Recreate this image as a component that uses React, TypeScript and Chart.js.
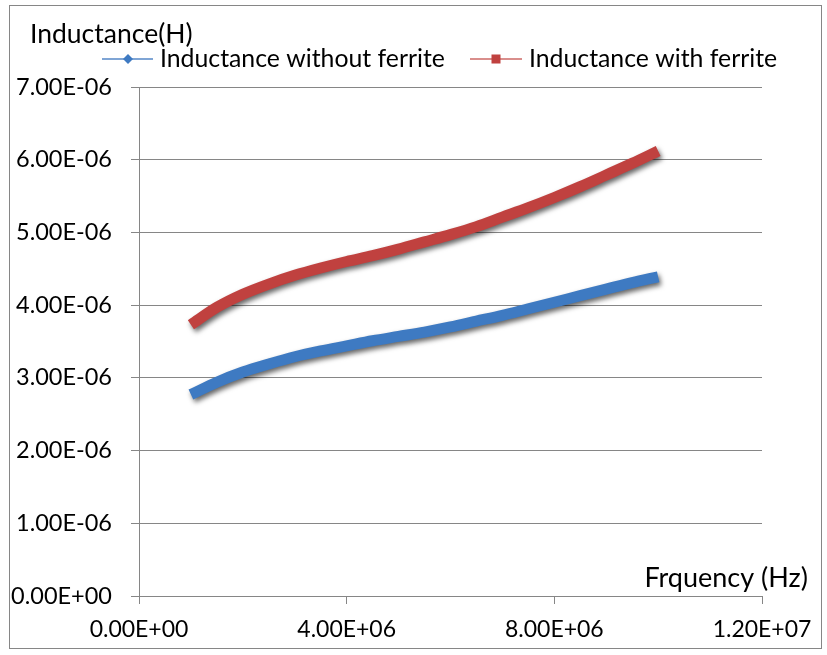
import React, { useEffect, useRef } from "react";
import { Chart, registerables } from "chart.js";

Chart.register(...registerables);

const frequencyHz = [
  1.0e6, 1.5e6, 2.0e6, 2.5e6, 3.0e6, 3.5e6, 4.0e6, 4.5e6, 5.0e6, 5.5e6,
  6.0e6, 6.5e6, 7.0e6, 7.5e6, 8.0e6, 8.5e6, 9.0e6, 9.5e6, 1.0e7,
];
const inductanceWithoutFerrite = [
  2.77e-6, 2.94e-6, 3.08e-6, 3.19e-6, 3.29e-6, 3.37e-6, 3.44e-6, 3.51e-6, 3.57e-6, 3.63e-6,
  3.70e-6, 3.78e-6, 3.86e-6, 3.95e-6, 4.04e-6, 4.13e-6, 4.22e-6, 4.31e-6, 4.39e-6,
];
const inductanceWithFerrite = [
  3.73e-6, 3.97e-6, 4.15e-6, 4.29e-6, 4.41e-6, 4.51e-6, 4.60e-6, 4.68e-6, 4.77e-6, 4.87e-6,
  4.97e-6, 5.08e-6, 5.21e-6, 5.34e-6, 5.48e-6, 5.63e-6, 5.79e-6, 5.95e-6, 6.12e-6,
];
const seriesNames = ["Inductance without ferrite", "Inductance with ferrite"];
const yAxisTitle = "Inductance(H)";
const xAxisTitle = "Frquency (Hz)";

const BLUE = "#3E7AC2";
const RED = "#C0413F";
const GRID = "#868686";
const FONT = "Lato";

const fmt = (v: number) => {
  const s = Number(v).toExponential(2);
  const [m, e] = s.split("e");
  const n = parseInt(e, 10);
  return m + "E" + (n < 0 ? "-" : "+") + String(Math.abs(n)).padStart(2, "0");
};

const decor = {
  id: "decor",
  beforeDraw(chart: any) {
    const ctx = chart.ctx;
    ctx.save();
    ctx.fillStyle = "#fff";
    ctx.fillRect(0, 0, chart.width, chart.height);
    ctx.restore();
  },
  beforeDatasetsDraw(chart: any) {
    const ctx = chart.ctx;
    ctx.save();
    ctx.shadowColor = "rgba(0,0,0,0.6)";
    ctx.shadowBlur = 5;
    ctx.shadowOffsetX = 2;
    ctx.shadowOffsetY = 3;
  },
  afterDatasetsDraw(chart: any) {
    chart.ctx.restore();
  },
  afterDraw(chart: any) {
    const ctx = chart.ctx;
    ctx.save();
    ctx.strokeStyle = GRID;
    ctx.lineWidth = 1;
    ctx.strokeRect(9.5, 5.5, 812, 643);
    ctx.fillStyle = "#000";
    ctx.textBaseline = "middle";
    ctx.font = `26.5px ${FONT}`;
    ctx.textAlign = "left";
    ctx.fillText(yAxisTitle, 30, 34);
    ctx.font = `27px ${FONT}`;
    ctx.textAlign = "right";
    ctx.fillText(xAxisTitle, 808, 578);
    // legend
    ctx.textAlign = "left";
    ctx.font = `24.8px ${FONT}`;
    const ly = 59;
    ctx.lineWidth = 2;
    ctx.strokeStyle = "#7FA5D5";
    ctx.beginPath();
    ctx.moveTo(102, ly);
    ctx.lineTo(153, ly);
    ctx.stroke();
    ctx.fillStyle = BLUE;
    ctx.beginPath();
    ctx.moveTo(128, ly - 5);
    ctx.lineTo(133, ly);
    ctx.lineTo(128, ly + 5);
    ctx.lineTo(123, ly);
    ctx.closePath();
    ctx.fill();
    ctx.fillStyle = "#000";
    ctx.fillText(seriesNames[0], 160, ly);
    ctx.strokeStyle = "#D98E8C";
    ctx.beginPath();
    ctx.moveTo(470, ly);
    ctx.lineTo(522, ly);
    ctx.stroke();
    ctx.fillStyle = RED;
    ctx.fillRect(491.5, ly - 4.5, 9, 9);
    ctx.fillStyle = "#000";
    ctx.fillText(seriesNames[1], 529, ly);
    ctx.restore();
  },
};

export default function App() {
  const ref = useRef<HTMLCanvasElement>(null);
  useEffect(() => {
    if (!ref.current) return;
    const chart = new Chart(ref.current, {
      type: "scatter",
      data: {
        datasets: [
          {
            label: seriesNames[0],
            data: frequencyHz.map((x, i) => ({ x, y: inductanceWithoutFerrite[i] })),
            showLine: true,
            borderColor: BLUE,
            backgroundColor: BLUE,
            borderWidth: 11,
            pointRadius: 0,
            cubicInterpolationMode: "monotone",
          },
          {
            label: seriesNames[1],
            data: frequencyHz.map((x, i) => ({ x, y: inductanceWithFerrite[i] })),
            showLine: true,
            borderColor: RED,
            backgroundColor: RED,
            borderWidth: 11,
            pointRadius: 0,
            cubicInterpolationMode: "monotone",
          },
        ],
      },
      options: {
        animation: false,
        responsive: false,
        layout: { padding: { left: 0, top: 87, right: 65, bottom: 0 } },
        plugins: { legend: { display: false }, tooltip: { enabled: false } },
        scales: {
          x: {
            type: "linear",
            min: 0,
            max: 1.2e7,
            afterFit: (s: any) => {
              s.height = 59;
            },
            ticks: {
              stepSize: 4e6,
              callback: (v: any) => fmt(Number(v)),
              font: { family: FONT, size: 23 },
              color: "#000",
              padding: 12,
              maxRotation: 0,
            },
            grid: { drawOnChartArea: false, drawTicks: true, tickLength: 8, color: GRID },
            border: { color: GRID },
          },
          y: {
            min: 0,
            max: 7e-6,
            afterFit: (s: any) => {
              s.width = 139;
            },
            ticks: {
              stepSize: 1e-6,
              callback: (v: any) => fmt(Number(v)),
              font: { family: FONT, size: 23.5 },
              color: "#000",
              padding: 19,
            },
            grid: { color: GRID, tickLength: 8, drawTicks: true },
            border: { color: GRID },
          },
        },
      },
      plugins: [decor],
    });
    return () => chart.destroy();
  }, []);
  return (
    <div style={{ position: "fixed", left: 0, top: 0, width: 827, height: 655 }}>
      <canvas ref={ref} width={827} height={655} />
    </div>
  );
}
